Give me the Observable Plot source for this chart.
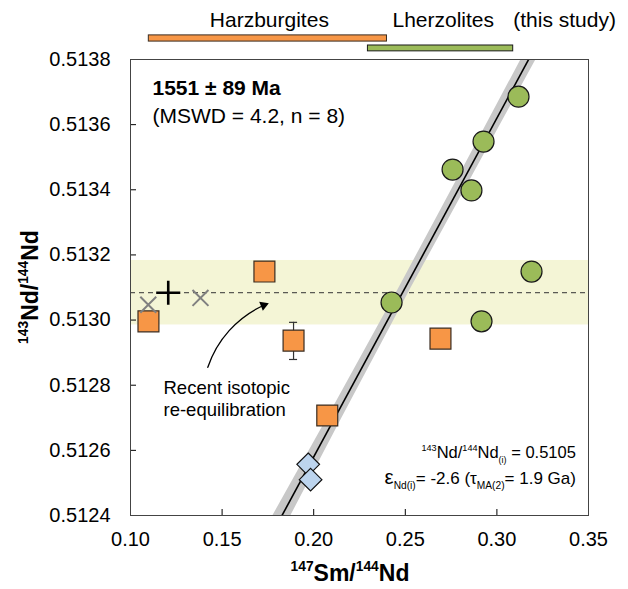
<!DOCTYPE html>
<html>
<head>
<meta charset="utf-8">
<script src="https://cdn.jsdelivr.net/npm/d3@7"></script>
<script src="https://cdn.jsdelivr.net/npm/@observablehq/plot@0.6"></script>
<style>
  body { margin: 0; background: #fff; }
  #chart svg { font-family: "Liberation Sans", Arial, sans-serif; }
</style>
</head>
<body>
<div id="chart"></div>
<script>
// Lherzolites (this study): 147Sm/144Nd vs 143Nd/144Nd
const lherzSm = [0.3118, 0.2927, 0.2758, 0.2861, 0.2425, 0.3189, 0.2916];
const lherzNd = [0.513686, 0.513548, 0.513462, 0.513398, 0.513054, 0.513149, 0.512996];

// Harzburgites (this study)
const harzSm = [0.1098, 0.1731, 0.1890, 0.2074, 0.2692];
const harzNd = [0.512996, 0.513149, 0.512937, 0.512707, 0.512943];

// 2-sigma error on the one harzburgite that shows it
const errSm = [0.1890];
const errLo = [0.512879];
const errHi = [0.512993];

// Other samples (light blue diamonds)
const otherSm = [0.1970, 0.1983];
const otherNd = [0.512557, 0.512510];

// Reference compositions: grey crosses and black plus
const refSm = [0.1097, 0.1382];
const refNd = [0.513047, 0.513068];
const plusSm = [0.1206];
const plusNd = [0.513084];

// Present-day reference value (dashed) and its range (shaded band)
const refLine = 0.513084;
const refBand = [0.512985, 0.513183];

// Isochron: initial ratio and slope
const initialNd = 0.5105;
const isoSlope = 0.0104;
const isoSpan = [0.16, 0.34];

// Isochron error envelope (edges read along y)
const envNd = [0.5124, 0.5127, 0.5131, 0.5135, 0.5138];
const envLo = [0.1778, 0.2076, 0.2467, 0.2848, 0.3132];
const envHi = [0.1876, 0.2155, 0.2533, 0.2922, 0.3214];

// Sm/Nd ranges of each lithology (bars above the plot)
const harzRange = [0.110, 0.240];
const lherzRange = [0.2296, 0.3089];

// Axis ticks
const xTicks = [0.10, 0.15, 0.20, 0.25, 0.30, 0.35];
const yTicks = [0.5124, 0.5126, 0.5128, 0.5130, 0.5132, 0.5134, 0.5136, 0.5138];

const zip = (xs, ys) => xs.map((x, i) => ({x, y: ys[i]}));
const lherz = zip(lherzSm, lherzNd);
const harz = zip(harzSm, harzNd);
const others = zip(otherSm, otherNd);
const refs = zip(refSm, refNd);
const plus = zip(plusSm, plusNd);
const errs = errSm.map((x, i) => ({x, lo: errLo[i], hi: errHi[i]}));
const envelope = envNd.map((y, i) => ({y, x1: envLo[i], x2: envHi[i]}));
const iso = [{x1: isoSpan[0], y1: initialNd + isoSlope * isoSpan[0], x2: isoSpan[1], y2: initialNd + isoSlope * isoSpan[1]}];

// arrow from the note to the shaded band
const arrowFrom = {x: 0.1422, y: 0.512855};
const arrowTo = {x: 0.1755, y: 0.513052};

const orange = "#f79646", green = "#9bbb59", blue = "#bcd4ee";
const font = 20;

const plot = Plot.plot({
  width: 628,
  height: 589,
  marginLeft: 130,
  marginRight: 40,
  marginTop: 59,
  marginBottom: 74,
  style: {fontFamily: '"Liberation Sans", Arial, sans-serif', fontSize: font + "px", color: "#000", background: "#fff", overflow: "visible"},
  x: {domain: [0.10, 0.35]},
  y: {domain: [0.5124, 0.5138]},
  marks: [
    // shaded range and dashed reference value
    Plot.rect([0], {x1: 0.10, x2: 0.35, y1: refBand[0], y2: refBand[1], fill: "#f4f5d6"}),
    Plot.ruleY([refLine], {stroke: "#333", strokeWidth: 1, strokeDasharray: "5,4"}),
    // isochron with its error envelope
    Plot.areaX(envelope, {y: "y", x1: "x1", x2: "x2", fill: "#c8c8c8", clip: true}),
    Plot.link(iso, {x1: "x1", y1: "y1", x2: "x2", y2: "y2", stroke: "#000", strokeWidth: 1.6, clip: true}),
    // error bar
    Plot.ruleX(errs, {x: "x", y1: "lo", y2: "hi", stroke: "#333", strokeWidth: 1.2}),
    Plot.ruleY(errs, {y: "lo", x1: d => d.x - 0.0022, x2: d => d.x + 0.0022, stroke: "#333", strokeWidth: 1.2}),
    Plot.ruleY(errs, {y: "hi", x1: d => d.x - 0.0022, x2: d => d.x + 0.0022, stroke: "#333", strokeWidth: 1.2}),
    // samples
    Plot.dot(harz, {x: "x", y: "y", symbol: "square", r: 11.8, fill: orange, stroke: "#3a2c20", strokeWidth: 1.2}),
    Plot.dot(lherz, {x: "x", y: "y", symbol: "circle", r: 10.5, fill: green, stroke: "#1a1a1a", strokeWidth: 1.2}),
    Plot.dot(others, {x: "x", y: "y", symbol: "diamond2", r: 10.2, fill: blue, stroke: "#111", strokeWidth: 1.2}),
    Plot.dot(refs, {x: "x", y: "y", symbol: "times", r: 7.3, stroke: "#808080", strokeWidth: 2}),
    Plot.dot(plus, {x: "x", y: "y", symbol: "plus", r: 7.8, stroke: "#000", strokeWidth: 2.6}),
    // annotation arrow (curved shaft + filled head)
    Plot.arrow([0], {x1: arrowFrom.x, y1: arrowFrom.y, x2: arrowTo.x, y2: arrowTo.y, bend: 25, headLength: 0, insetEnd: 6, strokeWidth: 1.3, stroke: "#000"}),
    Plot.dot([arrowTo], {x: "x", y: "y", symbol: "triangle", r: 3.6, rotate: 68, dx: -5.2, dy: 2.1, fill: "#000", stroke: "none"}),
    Plot.text(["Recent isotopic\nre-equilibration"], {frameAnchor: "top-left", dx: 33, dy: 338, textAnchor: "start", lineAnchor: "middle", lineHeight: 1.2, fontSize: 18.5}),
    Plot.text(["1551 ± 89 Ma"], {frameAnchor: "top-left", dx: 22, dy: 29, textAnchor: "start", lineAnchor: "middle", fontSize: 21, fontWeight: "bold"}),
    Plot.text(["(MSWD = 4.2, n = 8)"], {frameAnchor: "top-left", dx: 22, dy: 57, textAnchor: "start", lineAnchor: "middle", fontSize: 21}),
    // lithology ranges above the plot
    Plot.rect([harzRange], {x1: d => d[0], x2: d => d[1], y1: 0.513874, y2: 0.513855, fill: orange, stroke: "#3a2c20", strokeWidth: 1, clip: false}),
    Plot.rect([lherzRange], {x1: d => d[0], x2: d => d[1], y1: 0.513843, y2: 0.513825, fill: green, stroke: "#1a1a1a", strokeWidth: 1, clip: false}),
    Plot.text(["Harzburgites"], {x: 0.1758, frameAnchor: "top", dy: -39, lineAnchor: "middle", fontSize: 21}),
    Plot.text(["Lherzolites"], {x: 0.2430, frameAnchor: "top", dy: -39, lineAnchor: "middle", textAnchor: "start", fontSize: 21}),
    Plot.text(["(this study)"], {x: 0.3089, frameAnchor: "top", dy: -39, lineAnchor: "middle", textAnchor: "start", fontSize: 21}),
    // axes and frame
    Plot.axisX({ticks: xTicks, tickSize: -6, tickPadding: 22, tickFormat: d3.format(".2f"), label: null, fontSize: font}),
    Plot.axisY({ticks: yTicks, tickSize: -6, tickPadding: 26, tickFormat: d3.format(".4f"), label: null, fontSize: font}),
    Plot.frame({stroke: "#444", strokeWidth: 1})
  ]
});

document.getElementById("chart").append(plot);

// Labels with superscripts / subscripts
const svg = d3.select(plot);
const X = plot.scale("x"), Y = plot.scale("y");

function rich(opts, parts) {
  const {x, y, anchor = "start", size = 17, weight = "normal", rotate = 0, supScale = 0.6} = opts;
  const t = svg.append("text")
    .attr("transform", `translate(${x},${y})` + (rotate ? ` rotate(${rotate})` : ""))
    .attr("text-anchor", anchor)
    .attr("font-size", size)
    .attr("font-weight", weight)
    .attr("fill", "#000")
    .style("white-space", "pre");
  for (const p of parts) {
    const s = t.append("tspan").text(p.t);
    if (p.sup) s.attr("font-size", size * supScale).attr("baseline-shift", size * 0.42);
    if (p.sub) s.attr("font-size", size * supScale).attr("baseline-shift", -size * 0.28);
    if (p.scale) s.attr("font-size", size * p.scale);
  }
  return t;
}

// x-axis title
rich({x: 350, y: 581, anchor: "middle", size: 23, weight: "bold"},
  [{t: "147", sup: true}, {t: "Sm/"}, {t: "144", sup: true}, {t: "Nd"}]);

// y-axis title
rich({x: 38, y: Y.apply(0.51310), anchor: "middle", size: 23, weight: "bold", rotate: -90},
  [{t: "143", sup: true}, {t: "Nd/"}, {t: "144", sup: true}, {t: "Nd"}]);

// isochron result
rich({x: X.apply(0.3434), y: 458, anchor: "end", size: 16.5, supScale: 0.55},
  [{t: "143", sup: true}, {t: "Nd/"}, {t: "144", sup: true}, {t: "Nd"}, {t: "(i)", sub: true}, {t: " = 0.5105"}]);
rich({x: X.apply(0.3434), y: 484, anchor: "end", size: 17},
  [{t: "ε", scale: 1.2}, {t: "Nd(i)", sub: true}, {t: "= -2.6 ("}, {t: "τ"}, {t: "MA(2)", sub: true}, {t: "= 1.9 Ga)"}]);
</script>
</body>
</html>
